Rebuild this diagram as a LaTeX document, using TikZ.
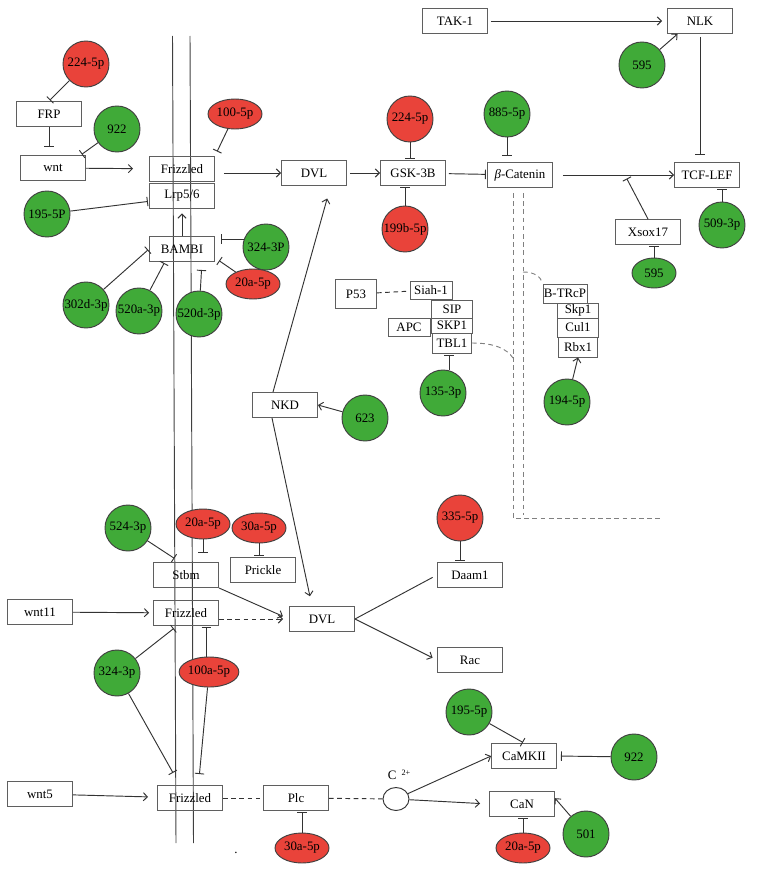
\documentclass[tikz,border=0pt]{standalone}
\usepackage{fontspec}
\setmainfont{Liberation Serif}
\usetikzlibrary{arrows.meta,shapes.geometric}
\definecolor{mirred}{RGB}{233,67,58}
\definecolor{mirgreen}{RGB}{64,170,56}
\definecolor{edgegray}{RGB}{95,95,95}

\begin{document}
\begin{tikzpicture}[x=0.03cm,y=-0.03cm,line width=0.8pt,
  font=\fontsize{11}{13}\selectfont,
  gene/.style={draw=edgegray,minimum width=1.95cm,minimum height=0.75cm,inner sep=1pt},
  sbox/.style 2 args={draw=edgegray,inner sep=0pt,minimum width=#1*0.03cm,minimum height=#2*0.03cm},
  redc/.style={circle,draw=black!75,fill=mirred,minimum size=1.38cm,inner sep=0pt},
  grnc/.style={circle,draw=black!75,fill=mirgreen,minimum size=1.38cm,inner sep=0pt},
  rede/.style={ellipse,draw=black!75,fill=mirred,minimum width=1.62cm,minimum height=0.9cm,inner sep=0pt},
  grne/.style={ellipse,draw=black!75,fill=mirgreen,minimum width=1.32cm,minimum height=0.9cm,inner sep=0pt},
  act/.style={draw=black!80,-{Straight Barb[length=3.5pt,width=7pt]}},
  inh/.style={draw=black!80,-{Bar[width=8pt]},shorten >=1pt},
  link/.style={draw=black!80,dash pattern=on 4pt off 3pt},
  bdash/.style={draw=gray,dash pattern=on 4pt off 3pt}]
\useasboundingbox (0,0) rectangle (756,871);

% membrane
\draw[black!75] (172.5,36) -- (176,843);
\draw[black!75] (190,36) -- (193.5,843);

% canonical pathway
\node[gene] (frp) at (49,114) {FRP};
\node[gene] (wnt) at (53,168) {wnt};
\node[gene] (frz1) at (182,169) {Frizzled};
\node[gene] (lrp) at (182,195.5) {Lrp5/6};
\node[gene] (bambi) at (182,249) {BAMBI};
\node[gene] (dvlA) at (314,173) {DVL};
\node[gene] (gsk) at (413,173) {GSK-3B};
\node[gene] (bcat) at (520,175) {\textit{β}-Catenin};
\node[gene] (tak) at (455,21) {TAK-1};
\node[gene] (nlk) at (700,21) {NLK};
\node[gene] (tcf) at (707,175) {TCF-LEF};
\node[gene] (xsox) at (648,232) {Xsox17};
\node[sbox={41}{29}] (p53) at (356,294) {P53};
\node[sbox={42}{18}] (siah) at (431,290) {Siah-1};
\node[sbox={41}{18}] (sip) at (452,309) {SIP};
\node[sbox={41}{15}] (skpA) at (452,325.5) {SKP1};
\node[sbox={42}{18}] (apc) at (409,327) {APC};
\node[sbox={39}{20}] (tbl) at (452,343) {TBL1};
\node[sbox={44}{19}] (btrcp) at (565,293.5) {B-TRcP};
\node[sbox={41}{15}] (skpB) at (578,310.5) {Skp1};
\node[sbox={41}{19}] (cul) at (578,327.5) {Cul1};
\node[sbox={39}{20}] (rbx) at (578,347) {Rbx1};
\node[gene] (nkd) at (285,405) {NKD};

% planar cell polarity / Ca pathways
\node[gene] (stbm) at (186,575) {Stbm};
\node[gene] (prickle) at (263,570) {Prickle};
\node[gene] (wntB) at (40,612) {wnt11};
\node[gene] (frz2) at (186,613) {Frizzled};
\node[gene] (dvlB) at (322,619) {DVL};
\node[gene] (daam) at (470,575) {Daam1};
\node[gene] (rac) at (470,660) {Rac};
\node[gene] (wntC) at (40,794) {wnt5};
\node[gene] (frz3) at (190,798) {Frizzled};
\node[gene] (plc) at (296,798) {Plc};
\node[gene] (camk) at (524,756) {CaMKII};
\node[gene] (can) at (522,804) {CaN};
\node[ellipse,draw=black!80,minimum width=0.78cm,minimum height=0.69cm,inner sep=0pt] (ca) at (396,799) {};
\node (calbl) at (399,775) {C\hspace{0.4em}\raisebox{0.6ex}{\scriptsize 2+}};
\node (dot) at (236,853) {.};

% miRNAs
\node[redc] (m224a) at (86,64) {224-5p};
\node[grnc] (m922a) at (117,129) {922};
\node[grnc] (m195a) at (47,214) {195-5P};
\node[rede] (m100) at (235,114) {100-5p};
\node[grnc] (m324a) at (266,247) {324-3P};
\node[rede] (m20a) at (253,284) {20a-5p};
\node[grnc] (m302) at (86,305) {302d-3p};
\node[grnc] (m520a) at (139,311) {520a-3p};
\node[grnc] (m520d) at (199,314) {520d-3p};
\node[grnc] (m595a) at (642,65) {595};
\node[redc] (m224b) at (410,119) {224-5p};
\node[redc] (m199) at (405,229) {199b-5p};
\node[grnc] (m885) at (507,114) {885-5p};
\node[grnc] (m509) at (722,225) {509-3p};
\node[grne] (m595b) at (654,273) {595};
\node[grnc] (m135) at (443,393) {135-3p};
\node[grnc] (m194) at (567,402) {194-5p};
\node[grnc] (m623) at (365,418) {623};
\node[grnc] (m524) at (128,528) {524-3p};
\node[rede] (m20b) at (203,524) {20a-5p};
\node[rede] (m30a) at (259,528) {30a-5p};
\node[redc] (m335) at (460,518) {335-5p};
\node[grnc] (m324b) at (117,673) {324-3p};
\node[rede] (m100a) at (209,672) {100a-5p};
\node[rede] (m30b) at (302,848) {30a-5p};
\node[grnc] (m195b) at (469,712) {195-5p};
\node[grnc] (m922b) at (634,757) {922};
\node[grnc] (m501) at (586,834) {501};
\node[rede] (m20c) at (523,848) {20a-5p};

% canonical links
\draw[inh] (m224a) -- (frp.north);
\draw[inh,shorten >=0.24cm] (frp.south) -- (frp.south |- wnt.north);
\draw[inh] (m922a) -- (wnt.25);
\draw[act,shorten >=0.48cm] (wnt) -- (frz1);
\draw[inh] (m195a) -- (lrp.190);
\draw[inh,shorten >=0.15cm] (m100) -- (frz1.north east);
\draw[act,shorten <=0.27cm] (frz1.east |- dvlA) -- (dvlA);
\draw[act,shorten >=0.15cm] (bambi.north) -- (lrp.south);
\draw[inh,shorten >=0.18cm] (m324a.160) -- (m324a.160 -| bambi.east);
\draw[inh,shorten >=0.15cm] (m20a) -- (bambi.-15);
\draw[inh] (m302) -- (bambi.west);
\draw[inh] (m520a) -- (bambi.217);
\draw[inh,shorten >=0.24cm] (m520d) -- (bambi.-33);
\draw[act,shorten <=0.09cm,shorten >=0.15cm] (tak) -- (nlk);
\draw[act] (m595a) -- (nlk.210);
\draw[inh,shorten <=0.09cm,shorten >=0.21cm] (nlk.south) -- (nlk.south |- tcf.north);
\draw[inh] (m509.north) -- (m509.north |- tcf.south);
\draw[act,shorten <=0.09cm] (dvlA) -- (gsk);
\draw[inh] (m224b.south) -- (m224b.south |- gsk.north);
\draw[inh] (m199.north) -- (m199.north |- gsk.south);
\draw[inh,shorten <=0.09cm] (gsk) -- (bcat);
\draw[inh,shorten >=0.18cm] (m885.south) -- (m885.south |- bcat.north);
\draw[act,shorten <=0.3cm] (bcat) -- coordinate[pos=0.594] (xcross) (tcf);
\draw[inh,shorten >=0.12cm] (xsox.north) -- (xcross);
\draw[inh] (m595b.north) -- (m595b.north |- xsox.south);

% degradation complex
\draw[bdash] (513,193) -- (513,518) -- (663,518);
\draw[bdash] (523,193) -- (523,515);
\coordinate (tblend) at (513,358);
\coordinate (trcpstart) at (523,272);
\draw[bdash] (tbl.east) .. controls (495,343) and (507,349) .. (tblend);
\draw[bdash] (trcpstart) .. controls (535,272) and (541,277) .. (btrcp.north west);
\draw[link] (p53) -- (siah);
\draw[inh] (m135.75) -- (m135.75 |- tbl.south);
\draw[act] (m194) -- (rbx.south);
\draw[act] (m623) -- (nkd.east);
\draw[act,shorten >=0.39cm] ([xshift=-0.36cm]nkd.north) -- ([xshift=0.5cm]dvlA.south);
\draw[act,shorten >=0.3cm] ([xshift=-0.39cm]nkd.south) -- ([xshift=-0.3cm]dvlB.north);

% PCP links
\draw[inh,shorten >=0.2cm] (m524) -- (stbm.115);
\draw[inh,shorten >=0.27cm] (m20b.south) -- (m20b.south |- stbm.north);
\draw[inh] (m30a.south) -- (m30a.south |- prickle.north);
\draw[act,shorten >=0.2cm] (stbm.south east) -- (dvlB.west);
\draw[act,shorten >=0.12cm] (wntB) -- (frz2);
\draw[link,act,shorten >=0.18cm] (frz2.east |- dvlB) -- (dvlB);
\draw[inh,shorten >=0.12cm] (m324b) -- (frz2.235);
\draw[inh] (m100a.100) -- (m100a.100 |- frz2.south);
\draw[shorten >=0.15cm,black!80] (dvlB.east) -- (daam.west);
\draw[act,shorten >=0.15cm] (dvlB.east) -- (rac.west);
\draw[inh] (m335.south) -- (m335.south |- daam.north);

% Ca links
\draw[inh,shorten >=0.42cm] (m324b) -- (frz3.128);
\draw[inh,shorten >=0.33cm] (m100a) -- (frz3.57);
\draw[act,shorten >=0.27cm] (wntC) -- (frz3);
\draw[link] (frz3) -- (plc);
\draw[inh] (m30b.north) -- (m30b.north |- plc.south);
\draw[link] (plc) -- (ca);
\draw[act] (ca) -- (camk.west);
\draw[act,shorten >=0.27cm] (ca) -- (can.west);
\draw[inh] (m195b) -- (camk.north);
\draw[inh,shorten >=0.12cm] (m922b) -- (camk.east);
\draw[act] (m501) -- (can.10);
\draw[inh] (m20c.north) -- (m20c.north |- can.south);
\end{tikzpicture}
\end{document}
